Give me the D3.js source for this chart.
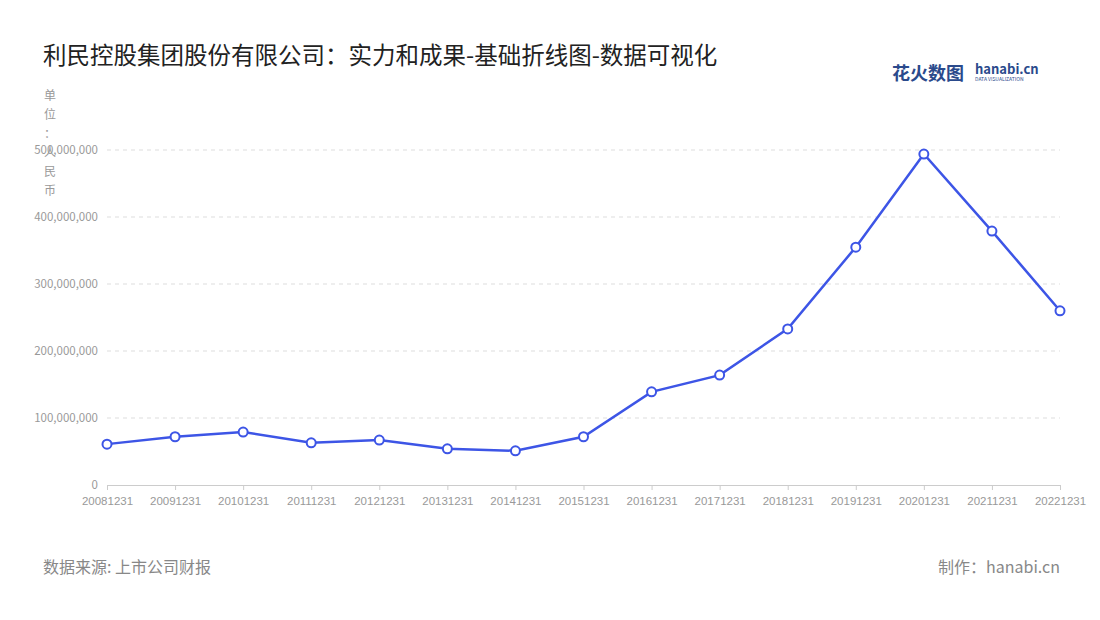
<!DOCTYPE html>
<html><head><meta charset="utf-8">
<script src="https://cdn.jsdelivr.net/npm/d3@7"></script>
<style>body{margin:0;background:#fff}</style>
</head><body><div id="chart"></div>
<script>
// Data
const years = ['20081231','20091231','20101231','20111231','20121231','20131231','20141231','20151231','20161231','20171231','20181231','20191231','20201231','20211231','20221231']
const values = [61e6,72e6,79e6,63e6,67e6,54e6,51e6,72e6,139e6,164e6,233e6,355e6,494e6,379e6,260e6]
const yTicks = [0,1e8,2e8,3e8,4e8,5e8]
const unitLabel = ['单','位','：','人','民','币']

const font = '"Noto Sans CJK SC","Noto Sans",sans-serif'
const W = 1100, H = 620
const svg = d3.select('#chart').append('svg').attr('width', W).attr('height', H)
  .style('font-family', font)

const x = d3.scalePoint().domain(years).range([107, 1060])
const y = d3.scaleLinear().domain([0, 5e8]).range([485, 150])

// grid
svg.selectAll('line.grid').data(yTicks.slice(1)).join('line')
  .attr('x1', 107).attr('x2', 1060).attr('y1', y).attr('y2', y)
  .attr('stroke', '#ddd').attr('stroke-dasharray', '4,4')

// axes
const xAxis = svg.append('g').attr('transform', 'translate(0,485)')
  .call(d3.axisBottom(x).tickSize(5).tickSizeOuter(0))
xAxis.select('.domain').attr('stroke', '#ccc')
xAxis.selectAll('line').attr('stroke', '#ccc')
xAxis.selectAll('text').attr('fill', '#999').attr('font-size', 11.5).attr('dy', 12)

svg.selectAll('text.ytick').data(yTicks).join('text')
  .attr('x', 98).attr('y', y).attr('dy', 4).attr('text-anchor', 'end')
  .attr('fill', '#999').attr('font-size', 11.5)
  .text(d => d3.format(',')(d))

// unit label drawn over the axis area, on a white backing like the reference
svg.selectAll('text.unit').data(unitLabel).join('text')
  .attr('x', 50).attr('y', (d, i) => 100 + i * 19).attr('text-anchor', 'middle')
  .attr('fill', '#999').attr('font-size', 12).text(d => d)

// line
const line = d3.line().x((d, i) => x(years[i])).y(d => y(d))
svg.append('path').datum(values).attr('d', line)
  .attr('fill', 'none').attr('stroke', '#3d55e6').attr('stroke-width', 2.5)
svg.selectAll('circle').data(values).join('circle')
  .attr('cx', (d, i) => x(years[i])).attr('cy', y).attr('r', 4.5)
  .attr('fill', '#fff').attr('stroke', '#3d55e6').attr('stroke-width', 2)

// title and notes
svg.append('text').attr('x', 43).attr('y', 64).attr('font-size', 23.5).attr('fill', '#222')
  .text('利民控股集团股份有限公司：实力和成果-基础折线图-数据可视化')
svg.append('text').attr('x', 43).attr('y', 573).attr('font-size', 16).attr('fill', '#888')
  .text('数据来源: 上市公司财报')
svg.append('text').attr('x', 1060).attr('y', 573).attr('text-anchor', 'end').attr('font-size', 16).attr('fill', '#888')
  .text('制作：hanabi.cn')

// logo
svg.append('text').attr('x', 892).attr('y', 80).attr('font-size', 18).attr('font-weight', 'bold').attr('fill', '#2a4a8c')
  .text('花火数图')
svg.append('text').attr('x', 975).attr('y', 74).attr('font-size', 13).attr('font-weight', 'bold').attr('fill', '#2a4a8c')
  .text('hanabi.cn')
svg.append('text').attr('x', 975).attr('y', 81).attr('font-size', 5).attr('fill', '#2a4a8c')
  .text('DATA VISUALIZATION')
</script></body></html>
